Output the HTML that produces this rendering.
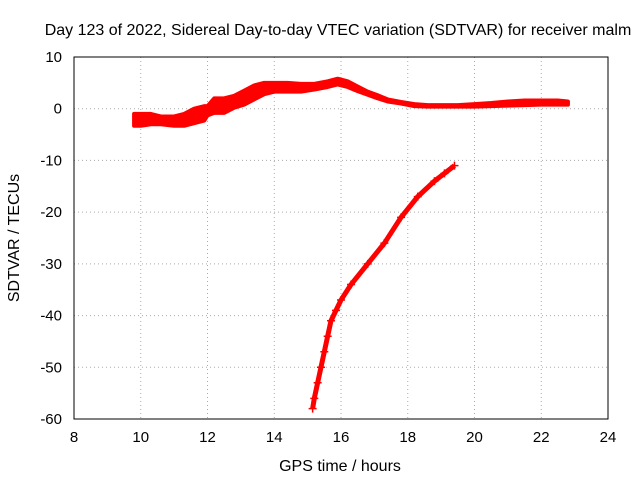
<!DOCTYPE html>
<html><head><meta charset="utf-8"><style>
body{margin:0;background:#fff}
svg{display:block;font-family:"Liberation Sans",sans-serif}
</style></head><body>
<svg id="chart" width="640" height="480">
<text x="338" y="35" font-size="16" text-anchor="middle">Day 123 of 2022, Sidereal Day-to-day VTEC variation (SDTVAR) for receiver malm</text>
<text x="340" y="471" font-size="16" text-anchor="middle">GPS time / hours</text>
<text transform="translate(19,238) rotate(-90)" font-size="16" text-anchor="middle">SDTVAR / TECUs</text>
<g id="grid"></g><g id="ticks"></g><g id="marks"></g>
<rect x="74" y="57" width="534" height="362" fill="none" stroke="#000"/>
</svg>
<script>
const xTicks=[8,10,12,14,16,18,20,22,24];
const yTicks=[10,0,-10,-20,-30,-40,-50,-60];
const bandHours=[9.8,10,10.3,10.6,11,11.3,11.6,11.9,12.0,12.2,12.5,12.8,13.1,13.4,13.7,14,14.4,14.8,15.2,15.6,15.9,16.2,16.5,16.8,17.1,17.4,17.8,18.2,18.6,19,19.5,20,20.5,21,21.5,22,22.5,22.8];
const bandMax=[-1,-1,-1,-1.5,-1.5,-1,0,0.5,0.5,2,2,2.5,3.5,4.5,5,5,5,4.8,4.8,5.3,5.8,5.3,4.3,3.3,2.6,1.8,1.3,0.9,0.7,0.7,0.7,0.9,1.1,1.4,1.6,1.6,1.6,1.4];
const bandMin=[-3.3,-3.3,-3,-3,-3.3,-3.3,-2.8,-2.3,-1.3,-0.8,-0.8,0.2,0.8,1.8,2.8,3.3,3.3,3.3,3.7,4.2,4.7,4.2,3.4,2.7,2,1.4,1,0.5,0.4,0.4,0.4,0.4,0.5,0.6,0.7,0.8,0.8,0.8];
const arcHours=[15.15,15.2,15.3,15.4,15.5,15.6,15.7,15.85,16,16.3,16.8,17.3,17.8,18.3,18.8,19.1,19.4];
const arcValues=[-58,-56,-53,-50,-47,-44,-41,-39,-37,-34,-30,-26,-21,-17,-14,-12.5,-11];
const X=v=>74+(v-8)*534/16, Y=v=>57+(10-v)*362/70;
const NS="http://www.w3.org/2000/svg";
function mk(tag,attrs,parent){const e=document.createElementNS(NS,tag);for(const k in attrs)e.setAttribute(k,attrs[k]);document.getElementById(parent).appendChild(e);return e;}
xTicks.forEach(t=>{
 if(t>8&&t<24){const g=mk('line',{x1:X(t),x2:X(t),y1:57,y2:419,stroke:'#aaa','stroke-dasharray':'1,3'},'grid');
 
 }
 const l=mk('text',{x:X(t),y:442,'font-size':15,'text-anchor':'middle'},'ticks');l.textContent=t;
 
 
});
yTicks.forEach(t=>{
 if(t<10&&t>-60){const g=mk('line',{x1:74,x2:608,y1:Y(t),y2:Y(t),stroke:'#aaa','stroke-dasharray':'1,3'},'grid');
 
 }
 const l=mk('text',{x:62,y:Y(t)+5,'font-size':15,'text-anchor':'end'},'ticks');l.textContent=t;
 
 
});
let pts=bandHours.map((h,i)=>X(h)+','+Y(bandMax[i]));
pts=pts.concat(bandHours.map((h,i)=>X(h)+','+Y(bandMin[i])).reverse());
const band=mk('polygon',{points:pts.join(' '),fill:'#f00',stroke:'#f00','stroke-width':4,'stroke-linejoin':'round'},'marks');


const arc=mk('polyline',{points:arcHours.map((h,i)=>X(h)+','+Y(arcValues[i])).join(' '),fill:'none',stroke:'#f00','stroke-width':5,'stroke-linejoin':'round'},'marks');


arcHours.forEach((h,i)=>{
 const p=mk('path',{d:`M${X(h)-4},${Y(arcValues[i])}h8M${X(h)},${Y(arcValues[i])-4}v8`,stroke:'#f00','stroke-width':1.5},'marks');
 
 
});
</script>
</body></html>
